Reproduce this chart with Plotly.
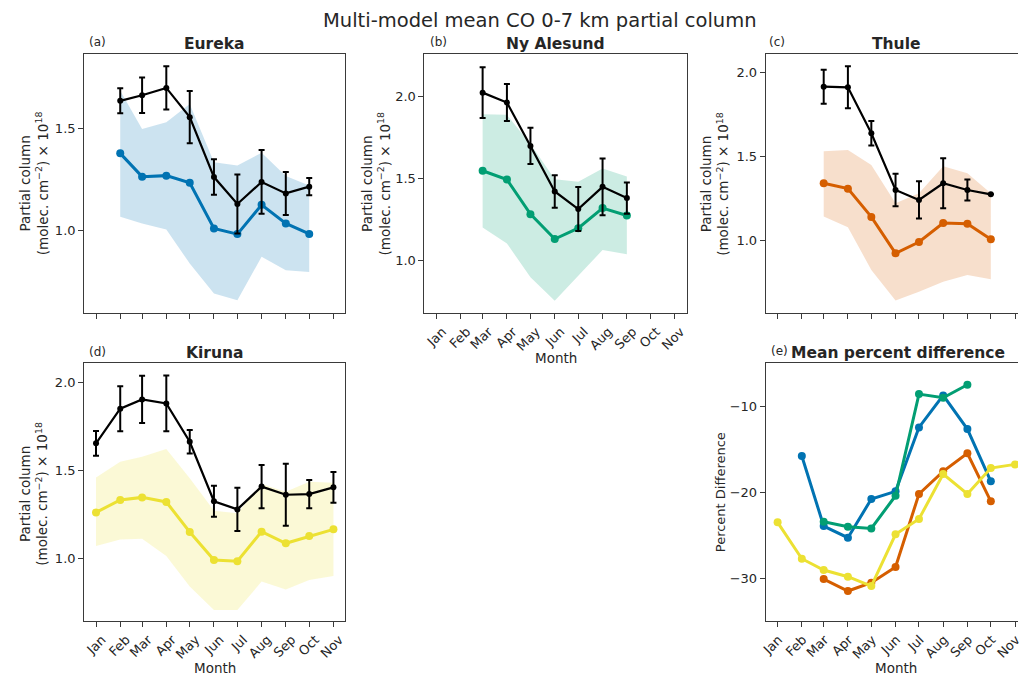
import plotly.graph_objects as go
import pandas as pd

# ---------------- data ----------------
months = ["Jan", "Feb", "Mar", "Apr", "May", "Jun", "Jul", "Aug", "Sep", "Oct", "Nov"]
month_dates = ["2001-01-01", "2001-02-01", "2001-03-01", "2001-04-01", "2001-05-01", "2001-06-01",
               "2001-07-01", "2001-08-01", "2001-09-01", "2001-10-01", "2001-11-01"]

# Eureka (Feb-Oct)
eureka_months = ["Feb", "Mar", "Apr", "May", "Jun", "Jul", "Aug", "Sep", "Oct"]
eureka_obs = [1.636, 1.663, 1.699, 1.556, 1.263, 1.131, 1.239, 1.183, 1.216]
eureka_obs_err = [0.061, 0.087, 0.106, 0.128, 0.087, 0.144, 0.156, 0.105, 0.042]
eureka_model = [1.379, 1.265, 1.270, 1.235, 1.011, 0.984, 1.127, 1.036, 0.985]
eureka_model_lo = [1.069, 1.036, 1.007, 0.840, 0.693, 0.660, 0.873, 0.807, 0.799]
eureka_model_hi = [1.685, 1.498, 1.531, 1.621, 1.335, 1.320, 1.382, 1.268, 1.222]

# Ny Alesund (Mar-Sep)
ny_months = ["Mar", "Apr", "May", "Jun", "Jul", "Aug", "Sep"]
ny_obs = [2.022, 1.962, 1.698, 1.421, 1.314, 1.449, 1.381]
ny_obs_err = [0.154, 0.113, 0.110, 0.099, 0.134, 0.173, 0.095]
ny_model = [1.547, 1.494, 1.283, 1.132, 1.198, 1.320, 1.275]
ny_model_lo = [1.202, 1.105, 0.899, 0.757, 0.909, 1.065, 1.040]
ny_model_hi = [1.891, 1.887, 1.709, 1.496, 1.480, 1.561, 1.512]

# Thule (Mar-Oct)
thule_months = ["Mar", "Apr", "May", "Jun", "Jul", "Aug", "Sep", "Oct"]
thule_obs = [1.913, 1.909, 1.636, 1.299, 1.240, 1.339, 1.299, 1.273]
thule_obs_err = [0.101, 0.125, 0.073, 0.096, 0.111, 0.149, 0.062, 0.0]
thule_model = [1.339, 1.307, 1.139, 0.923, 0.990, 1.103, 1.099, 1.006]
thule_model_lo = [1.141, 1.077, 0.824, 0.642, 0.695, 0.754, 0.794, 0.768]
thule_model_hi = [1.529, 1.537, 1.448, 1.220, 1.279, 1.440, 1.398, 1.279]

# Kiruna (Jan-Nov)
kiruna_months = ["Jan", "Feb", "Mar", "Apr", "May", "Jun", "Jul", "Aug", "Sep", "Oct", "Nov"]
kiruna_obs = [1.653, 1.849, 1.902, 1.879, 1.662, 1.325, 1.279, 1.408, 1.362, 1.366, 1.404]
kiruna_obs_err = [0.070, 0.128, 0.134, 0.158, 0.067, 0.088, 0.123, 0.123, 0.175, 0.080, 0.087]
kiruna_model = [1.262, 1.332, 1.347, 1.321, 1.151, 0.992, 0.985, 1.153, 1.087, 1.128, 1.166]
kiruna_model_lo = [1.072, 1.109, 1.113, 1.015, 0.842, 0.709, 0.709, 0.870, 0.826, 0.879, 0.902]
kiruna_model_hi = [1.460, 1.549, 1.577, 1.621, 1.455, 1.272, 1.257, 1.423, 1.379, 1.436, 1.430]

# Mean percent difference
eureka_pct = [-15.80, -23.93, -25.28, -20.79, -19.90, -12.48, -8.76, -12.67, -18.74]
ny_pct = [-23.42, -24.00, -24.20, -20.41, -8.61, -9.03, -7.52]
thule_pct = [-30.08, -31.47, -30.50, -28.68, -20.21, -17.58, -15.49, -21.06]
kiruna_pct = [-23.50, -27.72, -29.03, -29.81, -30.89, -24.89, -23.11, -17.89, -20.21, -17.20, -16.77]

# ---------------- styling ----------------
FONT = "DejaVu Sans"
W, H = 1023, 676
C_EUREKA = "#0173B2"
C_NY = "#029E73"
C_THULE = "#D55E00"
C_KIRUNA = "#ECE133"
AXC = "#3a3a3a"
TXT = "#262626"


def fx(p):
    return p / W


def fy(p):
    return 1 - p / H


def rgba(hexc, a):
    h = hexc.lstrip("#")
    return "rgba(%d,%d,%d,%.2f)" % (int(h[0:2], 16), int(h[2:4], 16), int(h[4:6], 16), a)


date_of = dict(zip(months, month_dates))

fig = go.Figure()


def add_station(ax, mlist, obs, err, model, lo, hi, color):
    xs = [date_of[m] for m in mlist]
    xa, ya = ("x" if ax == 1 else "x%d" % ax), ("y" if ax == 1 else "y%d" % ax)
    fig.add_trace(go.Scatter(x=xs, y=lo, mode="lines", line=dict(width=0, color=color),
                             xaxis=xa, yaxis=ya, hoverinfo="skip", showlegend=False))
    fig.add_trace(go.Scatter(x=xs, y=hi, mode="lines", line=dict(width=0, color=color),
                             fill="tonexty", fillcolor=rgba(color, 0.2),
                             xaxis=xa, yaxis=ya, hoverinfo="skip", showlegend=False))
    fig.add_trace(go.Scatter(x=xs, y=model, mode="lines+markers",
                             line=dict(width=3, color=color), marker=dict(size=8, color=color),
                             xaxis=xa, yaxis=ya, showlegend=False))
    fig.add_trace(go.Scatter(x=xs, y=obs, mode="lines+markers",
                             line=dict(width=2.2, color="black"), marker=dict(size=6, color="black"),
                             error_y=dict(type="data", array=err, visible=True, thickness=2,
                                          width=3, color="black"),
                             xaxis=xa, yaxis=ya, showlegend=False))


add_station(1, eureka_months, eureka_obs, eureka_obs_err, eureka_model, eureka_model_lo, eureka_model_hi, C_EUREKA)
add_station(2, ny_months, ny_obs, ny_obs_err, ny_model, ny_model_lo, ny_model_hi, C_NY)
add_station(3, thule_months, thule_obs, thule_obs_err, thule_model, thule_model_lo, thule_model_hi, C_THULE)
add_station(4, kiruna_months, kiruna_obs, kiruna_obs_err, kiruna_model, kiruna_model_lo, kiruna_model_hi, C_KIRUNA)

for mlist, vals, color in [(eureka_months, eureka_pct, C_EUREKA), (ny_months, ny_pct, C_NY),
                           (thule_months, thule_pct, C_THULE), (kiruna_months, kiruna_pct, C_KIRUNA)]:
    fig.add_trace(go.Scatter(x=[date_of[m] for m in mlist], y=vals, mode="lines+markers",
                             line=dict(width=3, color=color), marker=dict(size=8, color=color),
                             xaxis="x5", yaxis="y5", showlegend=False))

# ---------------- axes ----------------
t0 = pd.Timestamp(month_dates[0])
t1 = pd.Timestamp(month_dates[-1])
span_days = (t1 - t0).days
pad = pd.Timedelta(days=span_days * 0.05)
x_start = t0 - pad
full_span = (t1 + pad) - x_start
range_full = [str(x_start), str(t1 + pad)]
range_cut = [str(x_start), str(x_start + full_span * (255 / 264))]

COLS = {"A": (79, 343), "B": (423, 688), "C": (768, 1023)}
ROWS = {"top": (54, 313), "bot": (363, 621)}

# id: column, row, y range, y ticks, x tick labels, x range, right spine, label shift
panels = {
    1: ("A", "top", [0.598, 1.865], [1.0, 1.5], False, range_full, True, 6),
    2: ("B", "top", [0.682, 2.257], [1.0, 1.5, 2.0], True, range_full, True, 6),
    3: ("C", "top", [0.568, 2.107], [1.0, 1.5, 2.0], False, range_cut, False, 6),
    4: ("A", "bot", [0.647, 2.108], [1.0, 1.5, 2.0], True, range_full, True, 6),
    5: ("C", "bot", [-34.95, -5.0], [-30, -20, -10], True, range_cut, False, 1),
}

layout = {}
for i, (col, row, yr, yt, showlab, xr, ymirror, lshift) in panels.items():
    xk = "xaxis" if i == 1 else "xaxis%d" % i
    yk = "yaxis" if i == 1 else "yaxis%d" % i
    ya = "y" if i == 1 else "y%d" % i
    xa = "x" if i == 1 else "x%d" % i
    c0, c1 = COLS[col]
    r0, r1 = ROWS[row]
    layout[xk] = dict(domain=[fx(c0), fx(c1)], anchor=ya, type="date", range=xr,
                      tickmode="array", tickvals=month_dates, ticktext=months,
                      showticklabels=showlab, tickangle=-45, ticklabelshift=lshift,
                      ticklabeloverflow="allow",
                      ticks="outside", ticklen=5, tickwidth=1, tickcolor=AXC,
                      showline=True, linecolor=AXC, linewidth=1, mirror=True,
                      showgrid=False, zeroline=False,
                      tickfont=dict(family=FONT, size=13, color=TXT))
    layout[yk] = dict(domain=[fy(r1), fy(r0)], anchor=xa, range=yr,
                      tickmode="array", tickvals=yt,
                      tickformat=".1f" if i != 5 else "d",
                      ticks="outside", ticklen=5, tickwidth=1, tickcolor=AXC,
                      showline=True, linecolor=AXC, linewidth=1, mirror=ymirror,
                      showgrid=False, zeroline=False,
                      tickfont=dict(family=FONT, size=13, color=TXT))

annotations = []


def ann(text, x, y, size, bold=False, xanchor="center", angle=0):
    if bold:
        text = "<b>%s</b>" % text
    annotations.append(dict(text=text, x=fx(x), y=fy(y), xref="paper", yref="paper",
                            showarrow=False, xanchor=xanchor, yanchor="middle", textangle=angle,
                            font=dict(family=FONT, size=size, color=TXT)))


ann("Multi-model mean CO 0-7 km partial column", 540, 21, 19.5)
ann("Eureka", 211, 44, 15.5, bold=True)
ann("Ny Alesund", 555.5, 44, 15.5, bold=True)
ann("Thule", 900, 44, 15.5, bold=True)
ann("Kiruna", 211, 353, 15.5, bold=True)
ann("Mean percent difference", 902, 353, 15.5, bold=True)
ann("(a)", 82, 42, 12, xanchor="left")
ann("(b)", 427, 42, 12, xanchor="left")
ann("(c)", 769, 42, 12, xanchor="left")
ann("(d)", 82, 352, 12, xanchor="left")
ann("(e)", 771, 351, 12, xanchor="left")
ylab = "Partial column<br>(molec. cm<sup>−2</sup>) × 10<sup>18</sup>"
ann(ylab, 28, 183.5, 13.5, angle=-90)
ann(ylab, 374, 183.5, 13.5, angle=-90)
ann(ylab, 716, 183.5, 13.5, angle=-90)
ann(ylab, 28, 494, 13.5, angle=-90)
ann("Percent Difference", 722, 492, 13, angle=-90)
ann("Month", 555.5, 358, 13.5)
ann("Month", 211, 668, 13.5)
ann("Month", 900, 668, 13.5)

fig.update_layout(width=W, height=H, margin=dict(l=0, r=0, t=0, b=0),
                  paper_bgcolor="white", plot_bgcolor="white", showlegend=False,
                  annotations=annotations, **layout)

page_js = (
    "document.documentElement.style.overflow='hidden';"
    "document.body.style.margin='0';document.body.style.padding='0';"
    "document.body.style.overflow='hidden';"
)
fig.write_html("out.html", config={"displayModeBar": False}, post_script=page_js)
